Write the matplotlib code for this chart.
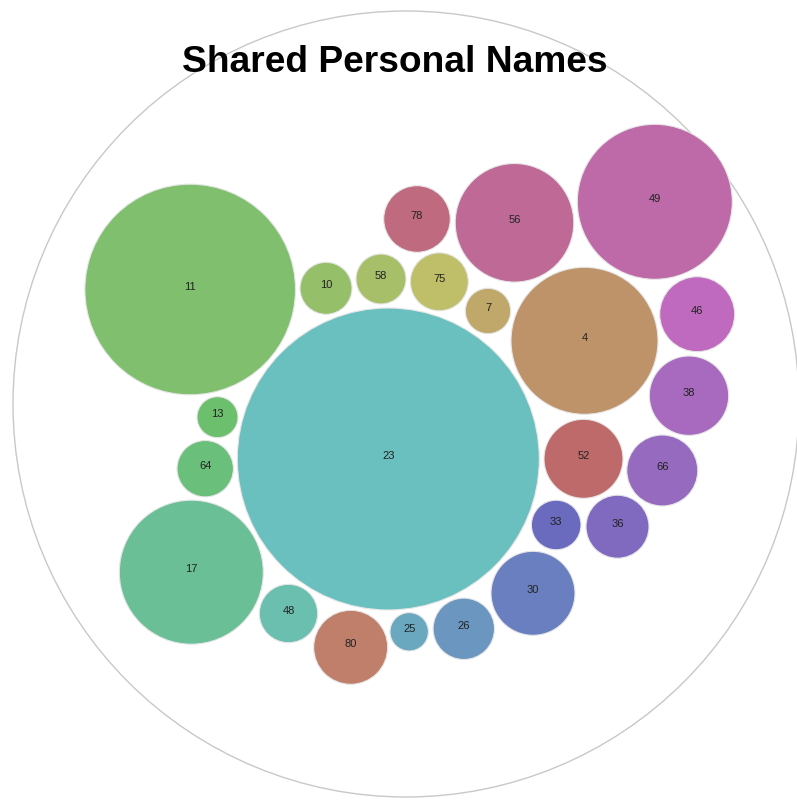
import matplotlib.pyplot as plt
from matplotlib.patches import Circle

# packed layout, units = pixels, origin at the centre of the enclosing circle
names = ['11', '23', '4', '49', '56', '78', '10', '58', '75', '7', '46', '38',
         '52', '66', '33', '36', '30', '26', '25', '80', '48', '17', '64', '13']
cx = [-215.8, -17.7, 178.5, 248.8, 108.5, 11.0, -80.0, -25.0, 33.3, 82.0, 291.2, 283.0,
      177.5, 256.3, 150.2, 211.5, 127.0, 57.8, 3.2, -55.3, -117.5, -214.7, -200.8, -188.5]
cy = [114.5, -55.0, 63.2, 202.2, 181.2, 185.0, 115.7, 125.0, 122.2, 93.0, 89.8, 8.3,
      -54.8, -66.5, -121.0, -122.7, -189.3, -224.8, -227.8, -243.3, -209.5, -168.2, -64.7, -13.2]
radius = [105.3, 151.0, 73.5, 77.5, 59.3, 33.3, 26.0, 25.0, 29.0, 22.7, 37.5, 39.7,
          39.5, 35.5, 24.8, 31.5, 42.0, 30.7, 19.2, 37.0, 29.2, 72.0, 28.2, 20.5]
outer_r = 393

colors = ['#7fbf6d', '#6abfbf', '#bf936a', '#bf6aa8', '#bf6a96', '#bf6a7f', '#96bf6a', '#a8bf6a',
          '#bfbf6a', '#bfa86a', '#bf6abf', '#a86abf', '#bf6a6a', '#966abf', '#6a6abf', '#7f6abf',
          '#6a7fbf', '#6a96bf', '#6aa8bf', '#bf7f6a', '#6abfae', '#6abf96', '#6abf7a', '#6cbf6c']

fig = plt.figure(figsize=(7.97, 8.0), dpi=100)
ax = fig.add_axes([0, 0, 1, 1])
ax.set_xlim(-406, 391)
ax.set_ylim(-396, 404)
ax.set_aspect('equal')
ax.axis('off')

ax.add_patch(Circle((0, 0), outer_r, facecolor='none', edgecolor='#c8c8c8', linewidth=1.0))

for n, x, y, r, c in zip(names, cx, cy, radius, colors):
    ax.add_patch(Circle((x, y), r, facecolor=c, edgecolor='#e6e6e6', linewidth=0.8))
    ax.text(x, y + 3, n, ha='center', va='center', fontsize=8,
            color='#222222', family='Liberation Sans')

ax.text(-11, 342, 'Shared Personal Names', ha='center', va='center', fontsize=26.7,
        fontweight='bold', family='Liberation Sans', color='black')

fig.savefig('out.png', dpi=100)
